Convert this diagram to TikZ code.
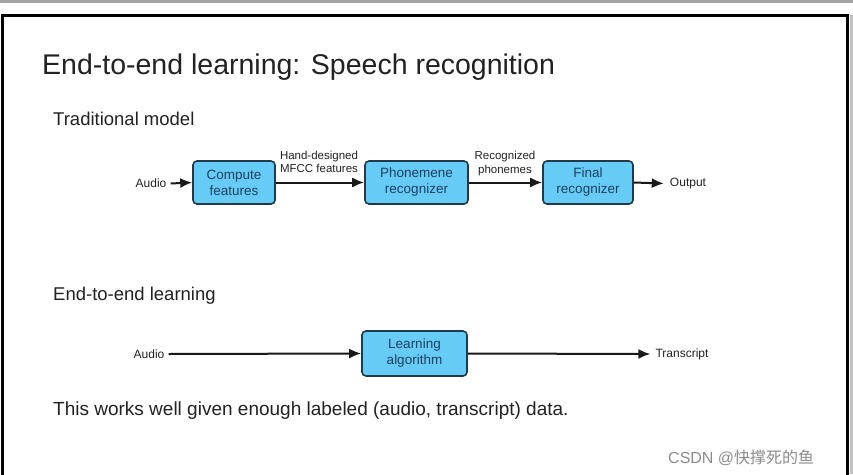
\documentclass[tikz,border=0pt]{standalone}
\usepackage{fontspec}
\setmainfont{Liberation Sans}
\newfontfamily\cjkfont{Noto Sans CJK SC}
\usetikzlibrary{arrows.meta}
\definecolor{boxfill}{HTML}{66CCF5}
\definecolor{boxline}{HTML}{1F3A4D}
\definecolor{boxtext}{HTML}{1F3F5F}
\definecolor{inktext}{HTML}{222222}
\tikzset{
  blk/.style={draw=boxline, line width=1.6pt, fill=boxfill, rounded corners=4pt,
    text=boxtext, font=\fontsize{13.5}{16}\selectfont, align=center, inner sep=0pt},
  small/.style={font=\fontsize{12}{13}\selectfont, text=inktext, inner sep=0pt, align=center},
  heading/.style={anchor=base west, inner sep=0pt, text=inktext},
  flow/.style={line width=2pt, draw=black!90, -{Latex[length=12pt,width=10pt]}},
}
\begin{document}
\begin{tikzpicture}[x=1pt,y=-1pt]
\useasboundingbox (0,0) rectangle (853,474);
\fill[white] (0,0) rectangle (853,474);
% top gray bar
\fill[black!35] (0,0) rectangle (853,3);
% frame
\draw[line width=3pt, black] (2.5,480) -- (2.5,15.5) -- (847,15.5) -- (847,480);
\fill[black!25] (850,15) rectangle (853,474);

% title and headings
\node[heading, font=\fontsize{28.5}{30}\selectfont] (title) at (42,74) {End-to-end learning: Speech recognition};
\node[heading, font=\fontsize{18.5}{20}\selectfont] (trad) at (53,125) {Traditional model};
\node[heading, font=\fontsize{18.5}{20}\selectfont] (e2e) at (53,300) {End-to-end learning};
\node[heading, font=\fontsize{19}{20}\selectfont] (note) at (53,415) {This works well given enough labeled (audio, transcript) data.};

% traditional pipeline
\node[small] (audio1) at (151,183.5) {Audio};
\node[blk, minimum width=82pt, minimum height=43pt] (cf) at (234,182.5) {Compute\\features};
\node[blk, minimum width=103pt, minimum height=43pt] (pr) at (416.5,182.5) {Phonemene\\recognizer};
\node[blk, minimum width=90pt, minimum height=43pt] (fr) at (588,182.5) {Final\\recognizer};
\node[small] (out) at (688,183.5) {Output};
\draw[flow] ([xshift=4pt]audio1.east) -- (cf.west);
\draw[flow] (cf.east) -- (pr.west);
\draw[flow] (pr.east) -- (fr.west);
\draw[flow] (fr.east) -- ([xshift=-6pt]out.west);
\node[small, font=\fontsize{11.5}{13.5}\selectfont] (lab1) at (319,162) {Hand-designed\\MFCC features};
\node[small, font=\fontsize{11.5}{13.5}\selectfont] (lab2) at (505,163.5) {Recognized\\phonemes};

% end-to-end
\node[small] (audio2) at (149,354) {Audio};
\node[blk, minimum width=105pt, minimum height=45pt] (la) at (414.5,353.5) {Learning\\algorithm};
\node[small] (tr) at (682,354) {Transcript};
\draw[flow] ([xshift=4pt]audio2.east) -- (la.west);
\draw[flow] (la.east) -- ([xshift=-5pt]tr.west);

% watermark
\node[anchor=base west, inner sep=0pt, text=black!45, font=\fontsize{16}{17}\selectfont] (wm) at (668,463) {CSDN @\cjkfont 快撑死的鱼};
\end{tikzpicture}
\end{document}
